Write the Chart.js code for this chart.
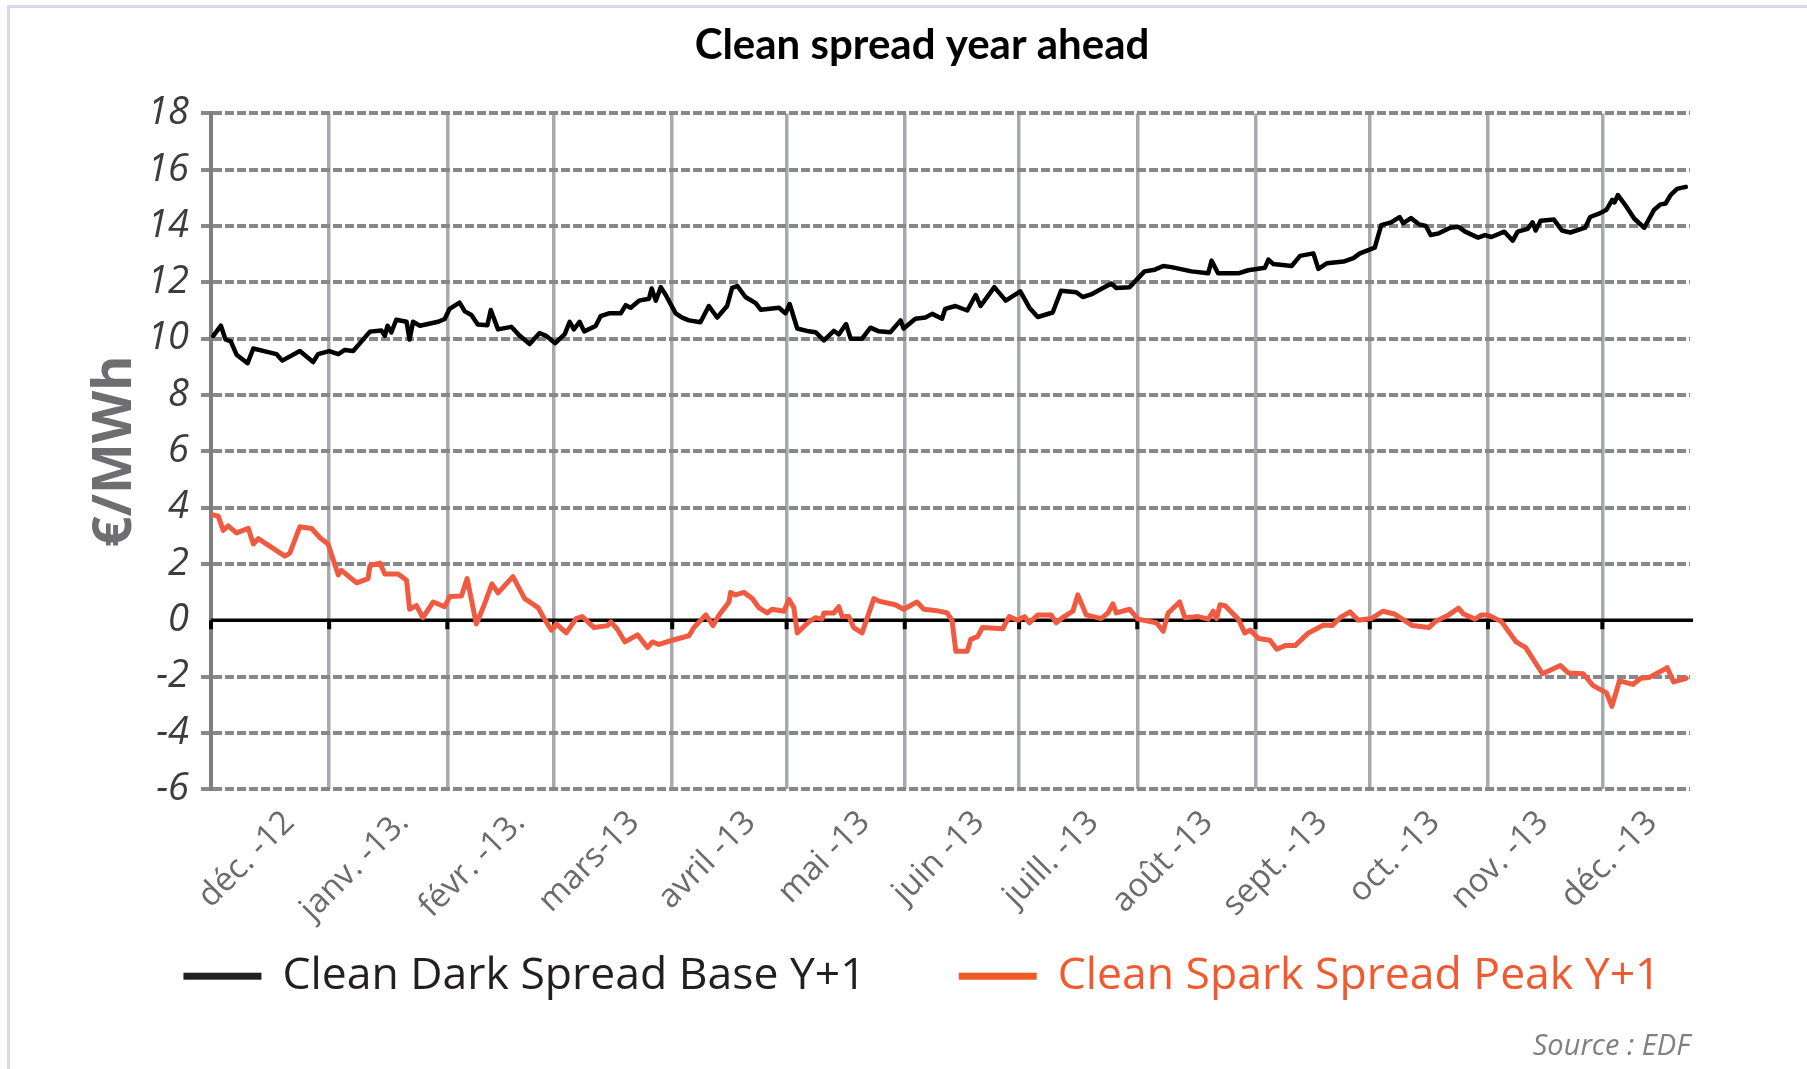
<!DOCTYPE html>
<html>
<head>
<meta charset="utf-8">
<title>Clean spread year ahead</title>
<script src="https://cdn.jsdelivr.net/npm/chart.js@4.4.1/dist/chart.umd.min.js"></script>
<style>
  html, body { margin: 0; padding: 0; background: #fff; }
  #wrap { position: relative; width: 1807px; height: 1069px; overflow: hidden; }
  #frame { position: absolute; left: 7px; top: 5px; right: -10px; bottom: -10px;
           border-top: 3px solid #d6d7f2; border-left: 3px solid #d6d7f2; }
  #chart { position: absolute; left: 0; top: 0; }
</style>
</head>
<body>
<div id="wrap">
  <div id="frame"></div>
  <canvas id="chart" width="1807" height="1069"></canvas>
</div>
<script>
//------Data------
// x = days since 1 Dec 2012
const monthStarts = [0, 31, 62, 90, 121, 151, 182, 212, 243, 274, 304, 335, 365];
const labelDays = [20.5, 50.5, 81, 111, 141.5, 171.5, 201.5, 231.5, 261.5, 291.5, 321, 349.5, 378];
const monthLabels = ['déc. -12', 'janv. -13.', 'févr. -13.', 'mars-13', 'avril -13', 'mai -13',
  'juin -13', 'juill. -13', 'août -13', 'sept. -13', 'oct. -13', 'nov. -13', 'déc. -13'];
const yMin = -6;
const yMax = 18;
const yStep = 2;

const darkDays = [0.6, 2.6, 3.8, 5.2, 6.7, 9.6, 11.1, 15.0, 17.2, 18.7, 23.3, 26.8, 28.1, 31.0, 33.4, 35.1,
  37.3, 41.7, 44.7, 45.6, 46.3, 47.3, 48.6, 51.3, 52.1, 53.0, 54.8, 59.6, 61.3, 62.6, 65.2, 66.6,
  68.3, 70.0, 72.5, 73.4, 75.3, 78.8, 81.0, 83.6, 86.2, 87.9, 90.3, 92.8, 94.1, 95.2, 96.7, 97.9,
  100.9, 102.2, 104.4, 107.5, 108.8, 110.1, 112.3, 114.9, 115.6, 116.7, 118.0, 119.3, 121.9, 123.6,
  125.4, 128.4, 130.6, 132.8, 135.4, 136.7, 138.1, 140.2, 142.9, 144.2, 149.0, 150.7, 151.8, 153.8,
  156.8, 158.6, 160.8, 163.4, 164.7, 166.6, 167.8, 170.8, 173.0, 175.2, 178.2, 180.9, 181.7, 184.8,
  187.4, 189.2, 191.8, 192.6, 195.3, 198.4, 200.6, 201.9, 205.5, 208.5, 212.3, 214.7, 216.9, 220.8,
  223.0, 227.0, 228.7, 230.9, 234.0, 236.2, 237.5, 241.0, 244.9, 247.6, 249.8, 252.0, 257.2, 261.6,
  262.5, 264.2, 269.5, 272.1, 276.5, 277.4, 278.7, 283.5, 285.7, 289.2, 290.5, 292.8, 297.1, 299.7,
  301.4, 305.3, 307.0, 309.6, 311.8, 312.8, 314.8, 316.9, 318.7, 320.0, 322.1, 325.1, 327.3, 329.0,
  332.4, 334.2, 335.9, 339.3, 341.5, 342.8, 345.4, 346.7, 347.5, 348.8, 352.3, 354.4, 356.6, 360.5,
  361.8, 364.3, 366.1, 367.6, 368.2, 369.1, 371.2, 373.4, 376.0, 378.6, 380.3, 381.6, 382.9, 384.6, 386.9];
const darkValues = [10.1, 10.46, 9.97, 9.9, 9.43, 9.13, 9.65, 9.52, 9.45, 9.22, 9.56, 9.17, 9.45, 9.56, 9.45, 9.6,
  9.56, 10.25, 10.29, 10.1, 10.46, 10.22, 10.67, 10.6, 9.97, 10.6, 10.46, 10.6, 10.7, 11.06, 11.28, 10.97,
  10.84, 10.5, 10.48, 11.02, 10.33, 10.42, 10.1, 9.81, 10.2, 10.1, 9.84, 10.16, 10.6, 10.33, 10.6, 10.26,
  10.45, 10.8, 10.9, 10.9, 11.19, 11.1, 11.35, 11.42, 11.78, 11.35, 11.83, 11.55, 10.9, 10.75,
  10.65, 10.58, 11.16, 10.75, 11.16, 11.8, 11.87, 11.48, 11.26, 11.03, 11.1, 10.9, 11.23, 10.36,
  10.26, 10.23, 9.94, 10.28, 10.15, 10.52, 10.0, 10.0, 10.39, 10.26, 10.23, 10.65, 10.36, 10.71,
  10.75, 10.88, 10.71, 11.06, 11.16, 11.0, 11.55, 11.16, 11.83, 11.35, 11.68, 11.1, 10.77, 10.93,
  11.7, 11.65, 11.48, 11.57, 11.8, 11.96, 11.8, 11.83, 12.39, 12.45, 12.58, 12.54, 12.39, 12.32,
  12.77, 12.32, 12.32, 12.43, 12.52, 12.81, 12.65, 12.58, 12.94, 13.03, 12.48, 12.68, 12.74, 12.86,
  13.03, 13.23, 14.03, 14.13, 14.32, 14.1, 14.28, 14.06, 14.0, 13.68, 13.74, 13.94, 13.97, 13.8,
  13.59, 13.68, 13.61, 13.8, 13.48, 13.8, 13.9, 14.13, 13.84, 14.19, 14.23, 13.84, 13.77, 13.94,
  14.32, 14.45, 14.58, 14.93, 14.84, 15.1, 14.71, 14.26, 13.94, 14.58, 14.77, 14.8, 15.1, 15.32, 15.39];

const sparkDays = [0.6, 1.9, 3.2, 4.5, 6.7, 9.8, 11.1, 12.4, 19.4, 20.7, 23.3, 26.4, 28.6, 30.7, 33.4, 34.2,
  38.2, 41.2, 41.7, 44.3, 45.6, 49.1, 51.3, 52.1, 53.9, 55.6, 58.3, 61.3, 62.6, 65.7, 67.2, 69.6,
  71.4, 73.7, 75.3, 79.2, 82.3, 85.8, 87.5, 89.3, 90.6, 93.2, 95.8, 97.4, 100.5, 104.0, 104.9, 106.6,
  108.6, 111.9, 114.5, 115.8, 117.5, 121.0, 125.4, 126.7, 129.8, 131.7, 133.3, 135.9, 136.3, 137.6,
  139.8, 142.0, 143.7, 145.9, 147.2, 150.3, 151.6, 152.9, 153.8, 156.8, 158.6, 160.3, 160.8, 163.4,
  164.7, 165.6, 167.3, 168.6, 170.8, 173.9, 175.2, 179.5, 181.7, 185.2, 187.0, 190.0, 193.1, 194.4,
  195.4, 198.4, 199.3, 201.1, 202.4, 207.7, 209.4, 211.6, 213.4, 214.7, 216.9, 220.4, 221.7, 223.4,
  226.1, 227.4, 229.6, 233.5, 235.3, 236.6, 237.5, 241.0, 243.2, 248.0, 249.8, 251.1, 254.1, 255.5,
  259.0, 261.6, 262.9, 263.8, 264.7, 266.0, 269.5, 271.2, 272.6, 274.8, 277.8, 279.6, 281.8, 284.4,
  287.9, 291.9, 294.1, 296.2, 298.8, 301.0, 304.4, 307.4, 310.5, 315.2, 319.5, 321.2, 324.7, 327.3,
  328.6, 331.6, 333.3, 335.0, 338.5, 342.4, 344.9, 349.3, 354.0, 356.1, 360.0, 362.6, 366.1, 367.5,
  369.5, 373.0, 375.1, 377.3, 381.6, 382.0, 383.7, 387.0];
const sparkValues = [3.74, 3.7, 3.19, 3.35, 3.1, 3.26, 2.71, 2.9, 2.28, 2.39, 3.32, 3.26, 2.93, 2.71, 1.61, 1.77,
  1.33, 1.48, 1.94, 2.03, 1.64, 1.64, 1.42, 0.39, 0.52, 0.09, 0.65, 0.48, 0.84, 0.86, 1.48, -0.13,
  0.45, 1.29, 0.97, 1.55, 0.77, 0.45, 0.04, -0.35, -0.13, -0.45, 0.06, 0.13, -0.26, -0.19, -0.06, -0.32,
  -0.77, -0.52, -0.97, -0.77, -0.86, -0.71, -0.55, -0.26, 0.19, -0.19, 0.19, 0.65, 0.99, 0.9,
  0.99, 0.77, 0.45, 0.26, 0.39, 0.32, 0.74, 0.45, -0.45, -0.06, 0.09, 0.04, 0.26, 0.26,
  0.48, 0.13, 0.13, -0.26, -0.45, 0.77, 0.68, 0.55, 0.39, 0.65, 0.39, 0.35, 0.26, 0.0,
  -1.1, -1.1, -0.68, -0.58, -0.26, -0.3, 0.13, 0.0, 0.13, -0.09, 0.19, 0.19, -0.09, 0.09,
  0.32, 0.9, 0.19, 0.06, 0.26, 0.58, 0.26, 0.39, 0.04, -0.09, -0.39, 0.26, 0.65, 0.09,
  0.13, 0.04, 0.32, 0.06, 0.55, 0.52, 0.04, -0.45, -0.35, -0.65, -0.71, -1.03, -0.9, -0.9,
  -0.45, -0.17, -0.19, 0.09, 0.3, 0.0, 0.06, 0.32, 0.22, -0.19, -0.26, -0.04, 0.19, 0.43,
  0.22, 0.04, 0.19, 0.19, -0.04, -0.77, -0.97, -1.9, -1.61, -1.87, -1.9, -2.32, -2.58, -3.06,
  -2.15, -2.28, -2.06, -2.03, -1.72, -1.68, -2.19, -2.06];
//--------------

const toPoints = (days, values) => days.map((d, i) => ({ x: d, y: values[i] }));

//---Zero line with month ticks
const zeroLine = {
  id: 'zeroLine',
  beforeDatasetsDraw(chart) {
    const { ctx, chartArea, scales: { x, y } } = chart;
    const y0 = y.getPixelForValue(0);
    ctx.save();
    ctx.strokeStyle = '#000';
    ctx.lineWidth = 3.5;
    ctx.beginPath();
    ctx.moveTo(chartArea.left, y0);
    ctx.lineTo(chartArea.right + 3, y0);
    ctx.stroke();
    ctx.lineWidth = 4;
    ctx.beginPath();
    monthStarts.forEach(d => {
      const px = x.getPixelForValue(d);
      ctx.moveTo(px, y0);
      ctx.lineTo(px, y0 + 9);
    });
    ctx.stroke();
    ctx.restore();
  }
};

//---Y title
const yTitle = {
  id: 'yTitle',
  afterDraw(chart) {
    const { ctx, chartArea } = chart;
    ctx.save();
    ctx.translate(chartArea.left - 95, (chartArea.top + chartArea.bottom) / 2);
    ctx.rotate(-Math.PI / 2);
    ctx.font = 'bold 54px "Open Sans"';
    ctx.fillStyle = '#6e6e70';
    ctx.textAlign = 'center';
    ctx.textBaseline = 'middle';
    ctx.fillText('€/MWh', 0, 0);
    ctx.restore();
  }
};

//---Legend (line sample + coloured text, wide gap between items)
const legendColors = ['#231f20', '#f15a2e'];
const legendGap = 93;
const bottomLegend = {
  id: 'bottomLegend',
  afterDraw(chart) {
    const { ctx, chartArea } = chart;
    const sets = chart.data.datasets;
    ctx.save();
    ctx.font = '44.5px "Open Sans"';
    const widths = sets.map(ds => 78 + 21 + ctx.measureText(ds.label).width);
    const total = widths.reduce((a, b) => a + b, 0) + legendGap * (sets.length - 1);
    const block = chart.titleBlock;
    let x = (block.left + block.right) / 2 - total / 2;
    const y = chartArea.bottom + 187;
    ctx.textBaseline = 'middle';
    sets.forEach((ds, i) => {
      ctx.fillStyle = ds.backgroundColor;
      ctx.fillRect(x, y - 3.5, 78, 7);
      ctx.fillStyle = legendColors[i];
      ctx.fillText(ds.label, x + 99, y);
      x += widths[i] + legendGap;
    });
    ctx.restore();
  }
};

new Chart(document.getElementById('chart'), {
  type: 'line',
  data: {
    datasets: [
      {
        label: 'Clean Dark Spread Base Y+1',
        data: toPoints(darkDays, darkValues),
        borderColor: '#000000',
        backgroundColor: '#231f20',
        borderWidth: 4.5
      },
      {
        label: 'Clean Spark Spread Peak Y+1',
        data: toPoints(sparkDays, sparkValues),
        borderColor: '#ef5a40',
        backgroundColor: '#f15a24',
        borderWidth: 5
      }
    ]
  },
  options: {
    responsive: false,
    animation: false,
    devicePixelRatio: 1,
    elements: {
      point: { radius: 0 },
      line: { tension: 0, borderJoinStyle: 'round', borderCapStyle: 'round' }
    },
    layout: { padding: { left: 154, right: 117, top: 0, bottom: 0 } },
    scales: {
      x: {
        type: 'linear',
        min: 0,
        max: 388,
        afterBuildTicks(scale) {
          scale.ticks = monthStarts.concat(labelDays).sort((a, b) => a - b).map(v => ({ value: v }));
        },
        afterFit(scale) { scale.height = 150; },
        border: { display: false },
        grid: {
          drawTicks: false,
          lineWidth: 3.5,
          color: ctx => (ctx.tick && monthStarts.includes(ctx.tick.value)) ? '#a8a9ad' : 'rgba(0,0,0,0)'
        },
        ticks: {
          autoSkip: false,
          minRotation: 45,
          maxRotation: 45,
          padding: 14,
          color: '#6b6b6d',
          font: { family: 'Open Sans', size: 33 },
          callback: value => {
            const i = labelDays.indexOf(value);
            return i >= 0 ? monthLabels[i] : '';
          }
        }
      },
      y: {
        min: yMin,
        max: yMax,
        afterFit(scale) { scale.width = 57; },
        border: {
          display: true,
          color: '#7e7e83',
          width: 4,
          dash: [9, 3]
        },
        grid: {
          lineWidth: 4,
          tickLength: 10,
          color: ctx => (ctx.tick && ctx.tick.value === 0) ? 'rgba(0,0,0,0)' : '#88888c'
        },
        ticks: {
          stepSize: yStep,
          padding: 12,
          color: '#3c3c3e',
          font: { family: 'Open Sans', style: 'italic', size: 38 }
        }
      }
    },
    plugins: {
      title: {
        display: true,
        text: 'Clean spread year ahead',
        color: '#000',
        font: { family: 'Lato', weight: 'bold', size: 42 },
        padding: { top: 20, bottom: 43 }
      },
      subtitle: {
        display: true,
        position: 'bottom',
        align: 'end',
        text: 'Source : EDF',
        color: '#808082',
        font: { family: 'Open Sans', style: 'italic', size: 29 },
        padding: { top: 90, bottom: 5 }
      },
      legend: { display: false },
      tooltip: { enabled: false }
    }
  },
  plugins: [zeroLine, yTitle, bottomLegend]
});
</script>
</body>
</html>
